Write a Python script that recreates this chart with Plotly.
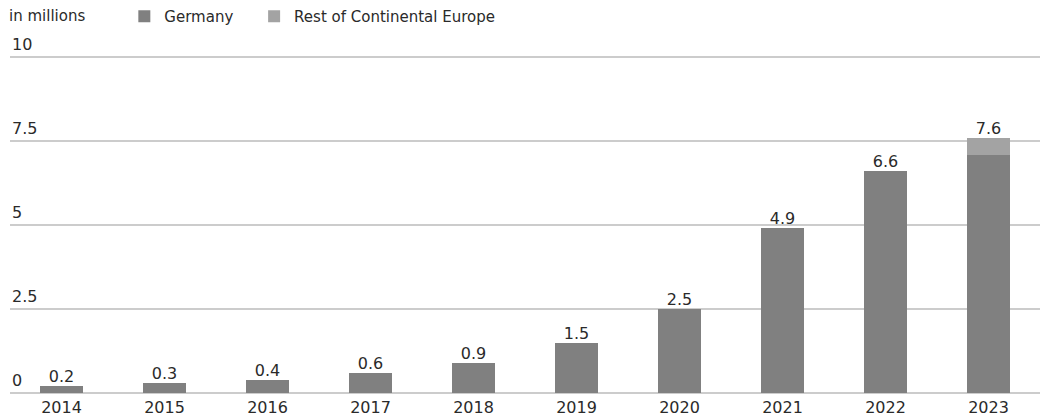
import plotly.graph_objects as go

years = ["2014", "2015", "2016", "2017", "2018", "2019", "2020", "2021", "2022", "2023"]
germany = [0.2, 0.3, 0.4, 0.6, 0.9, 1.5, 2.5, 4.9, 6.6, 7.1]
rest_of_europe = [0, 0, 0, 0, 0, 0, 0, 0, 0, 0.5]
totals = [round(g + r, 1) for g, r in zip(germany, rest_of_europe)]
total_labels = [f"{t:.1f}" for t in totals]
y_ticks = [0, 2.5, 5, 7.5, 10]
y_tick_text = ["0", "2.5", "5", "7.5", "10"]

FONT = "DejaVu Sans"
TEXT = "#2a2a2a"

fig = go.Figure()
fig.add_trace(go.Bar(x=years, y=germany, name="Germany", legend="legend",
                     marker=dict(color="#808080", line=dict(width=0))))
fig.add_trace(go.Bar(x=years, y=rest_of_europe, name="Rest of Continental Europe",
                     legend="legend2",
                     marker=dict(color="#a3a3a3", line=dict(width=0))))
fig.add_trace(go.Scatter(x=years, y=totals, mode="text", text=total_labels,
                         textposition="top center", showlegend=False,
                         textfont=dict(family=FONT, size=16, color=TEXT),
                         hoverinfo="skip"))

legend_style = dict(orientation="h", y=1.0, xanchor="left", yanchor="top",
                    yref="container", font=dict(family=FONT, size=15, color=TEXT),
                    itemwidth=30, bgcolor="rgba(0,0,0,0)")

# y-axis values sit just above their gridlines at the left edge
tick_annotations = [
    dict(text=label, xref="paper", yref="y", x=0, y=val, xanchor="left",
         yanchor="bottom", yshift=1, showarrow=False,
         font=dict(family=FONT, size=16, color=TEXT))
    for val, label in zip(y_ticks, y_tick_text)
]

fig.update_layout(
    width=1044, height=420,
    barmode="stack", bargap=0.59,
    plot_bgcolor="white", paper_bgcolor="white",
    margin=dict(l=10, r=4, t=37, b=27),
    font=dict(family=FONT, size=16, color=TEXT),
    legend=dict(x=0.111, **legend_style),
    legend2=dict(x=0.237, **legend_style),
    xaxis=dict(range=[-0.5, 9.5], autorange=False, showgrid=False, showline=False,
               ticks="", tickfont=dict(size=16), ticklabelstandoff=3, fixedrange=True),
    yaxis=dict(range=[0, 10.6], autorange=False, tickvals=y_ticks,
               showticklabels=False, showgrid=True, gridcolor="#cccccc",
               gridwidth=2, zeroline=True, zerolinecolor="#cccccc", zerolinewidth=2,
               showline=False, fixedrange=True),
    annotations=tick_annotations + [
        dict(text="in millions", xref="paper", yref="paper", x=-0.003, y=1.059,
             xanchor="left", yanchor="middle", showarrow=False,
             font=dict(family=FONT, size=15, color=TEXT))],
)

fig.write_html("out.html")
